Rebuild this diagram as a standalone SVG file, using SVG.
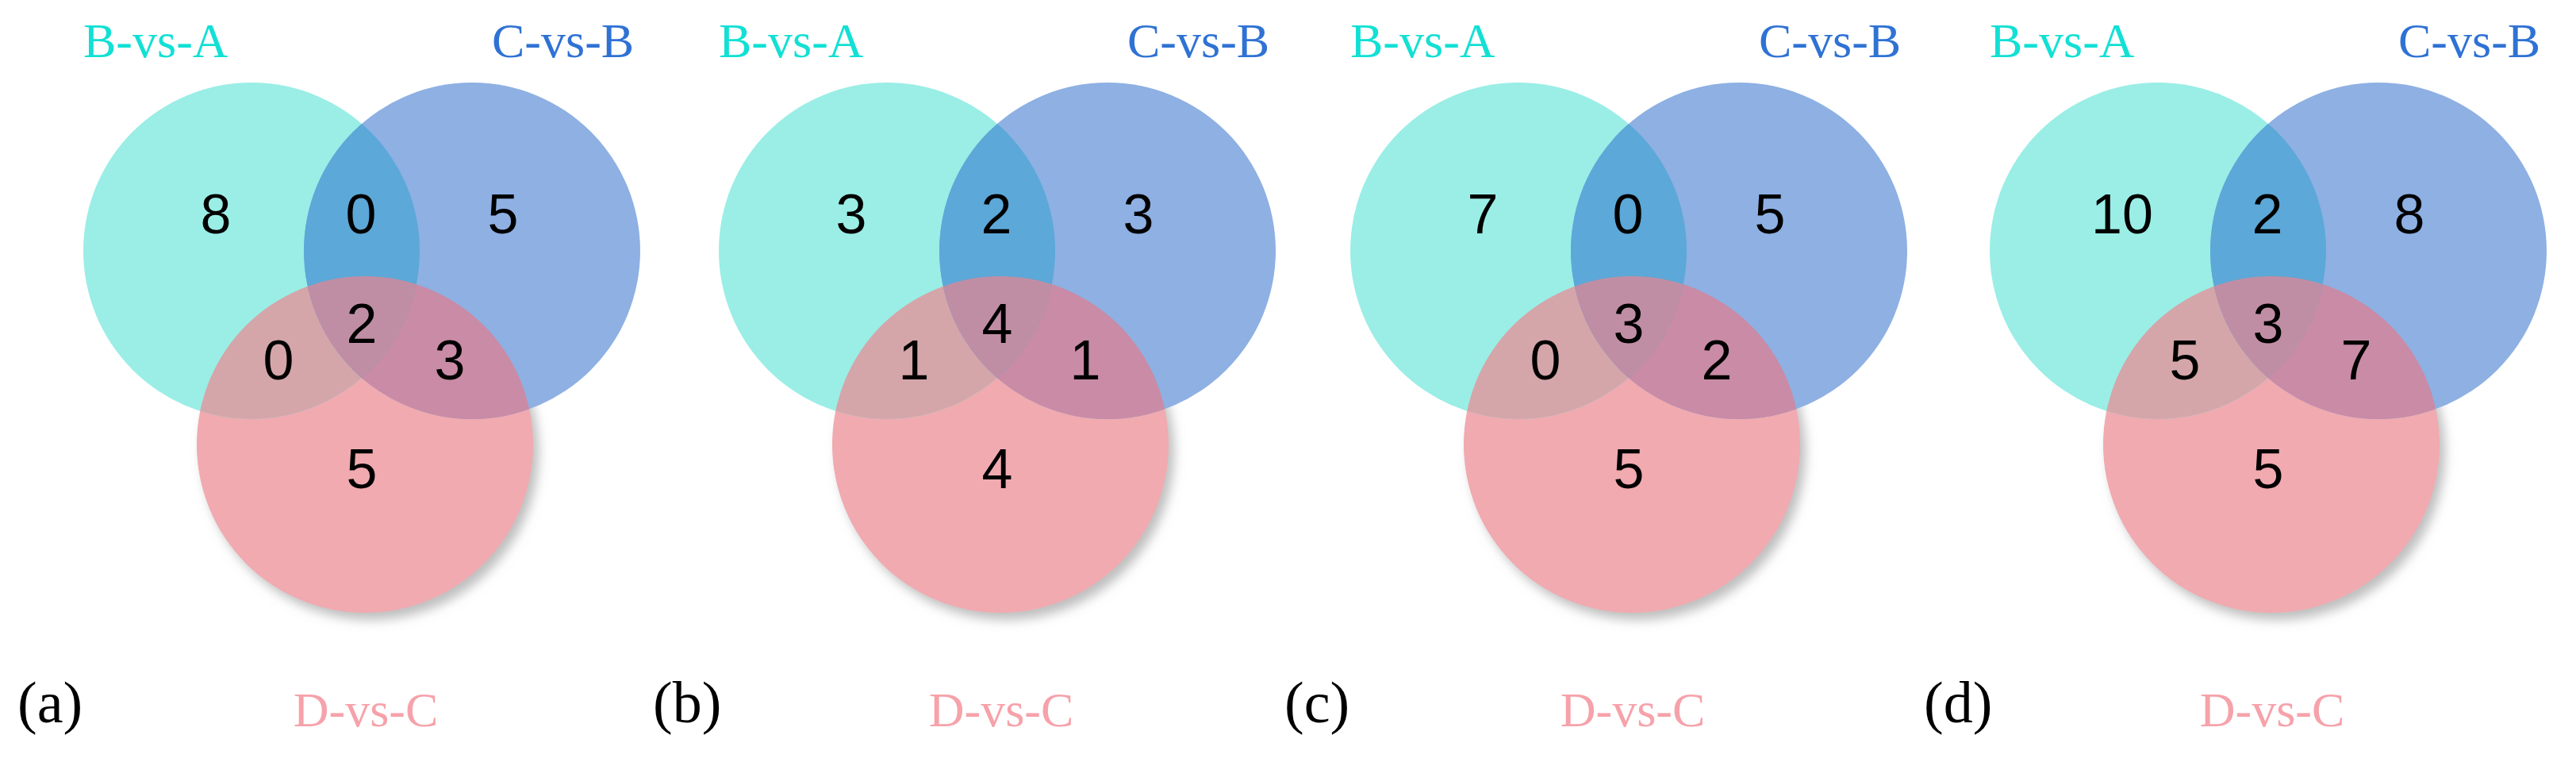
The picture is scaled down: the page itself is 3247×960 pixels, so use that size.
<svg xmlns="http://www.w3.org/2000/svg" width="3247" height="960" viewBox="0 0 3247 960">
<style>
.num{font-family:"Liberation Sans",Arial,sans-serif;font-size:70px;fill:#000;text-anchor:middle}
.lab{font-family:"Liberation Serif","Times New Roman",serif;font-size:62px}
.la{fill:#12E0D4}
.lc{fill:#2F72D4}
.ld{fill:#F6A2AA;text-anchor:middle}
.tag{font-family:"Liberation Serif","Times New Roman",serif;font-size:74px;fill:#000}
.cA{fill:#9AEEE6}
.cC{fill:#8EB0E3}
.cD{fill:#F0AAB0}
.iAC{fill:#5CA8D8}
.iAD{fill:#D4A6AA}
.iCD{fill:#C98BA5}
.iACD{fill:#C08EA4}
</style>
<defs>
<clipPath id="clipA" clipPathUnits="userSpaceOnUse"><circle cx="317" cy="316" r="212"/></clipPath>
<clipPath id="clipC" clipPathUnits="userSpaceOnUse"><circle cx="595" cy="316" r="212"/></clipPath>
<filter id="shadow" x="-20%" y="-20%" width="150%" height="150%">
<feDropShadow dx="7" dy="9" stdDeviation="7" flood-color="#888" flood-opacity="0.55"/>
</filter>
<g id="venn">
<circle class="cD" cx="460" cy="560" r="212" filter="url(#shadow)"/>
<circle class="cA" cx="317" cy="316" r="212"/>
<circle class="cC" cx="595" cy="316" r="212"/>
<circle class="iAD" cx="460" cy="560" r="212" clip-path="url(#clipA)"/>
<circle class="iCD" cx="460" cy="560" r="212" clip-path="url(#clipC)"/>
<circle class="iAC" cx="595" cy="316" r="212" clip-path="url(#clipA)"/>
<g clip-path="url(#clipA)"><circle class="iACD" cx="460" cy="560" r="212" clip-path="url(#clipC)"/></g>
<text class="lab la" x="105" y="72">B-vs-A</text>
<text class="lab lc" x="620" y="72">C-vs-B</text>
<text class="lab ld" x="461" y="915">D-vs-C</text>
</g>
</defs>
<g id="panel-a">
<use href="#venn"/>
<text class="num" x="272" y="294">8</text>
<text class="num" x="455" y="294">0</text>
<text class="num" x="634" y="294">5</text>
<text class="num" x="456" y="432">2</text>
<text class="num" x="351" y="478">0</text>
<text class="num" x="567" y="478">3</text>
<text class="num" x="456" y="615">5</text>
<text class="tag" x="22" y="910">(a)</text>
</g>
<g id="panel-b" transform="translate(801,0)">
<use href="#venn"/>
<text class="num" x="272" y="294">3</text>
<text class="num" x="455" y="294">2</text>
<text class="num" x="634" y="294">3</text>
<text class="num" x="456" y="432">4</text>
<text class="num" x="351" y="478">1</text>
<text class="num" x="567" y="478">1</text>
<text class="num" x="456" y="615">4</text>
<text class="tag" x="22" y="910">(b)</text>
</g>
<g id="panel-c" transform="translate(1597,0)">
<use href="#venn"/>
<text class="num" x="272" y="294">7</text>
<text class="num" x="455" y="294">0</text>
<text class="num" x="634" y="294">5</text>
<text class="num" x="456" y="432">3</text>
<text class="num" x="351" y="478">0</text>
<text class="num" x="567" y="478">2</text>
<text class="num" x="456" y="615">5</text>
<text class="tag" x="22" y="910">(c)</text>
</g>
<g id="panel-d" transform="translate(2403,0)">
<use href="#venn"/>
<text class="num" x="272" y="294">10</text>
<text class="num" x="455" y="294">2</text>
<text class="num" x="634" y="294">8</text>
<text class="num" x="456" y="432">3</text>
<text class="num" x="351" y="478">5</text>
<text class="num" x="567" y="478">7</text>
<text class="num" x="456" y="615">5</text>
<text class="tag" x="22" y="910">(d)</text>
</g>
</svg>
